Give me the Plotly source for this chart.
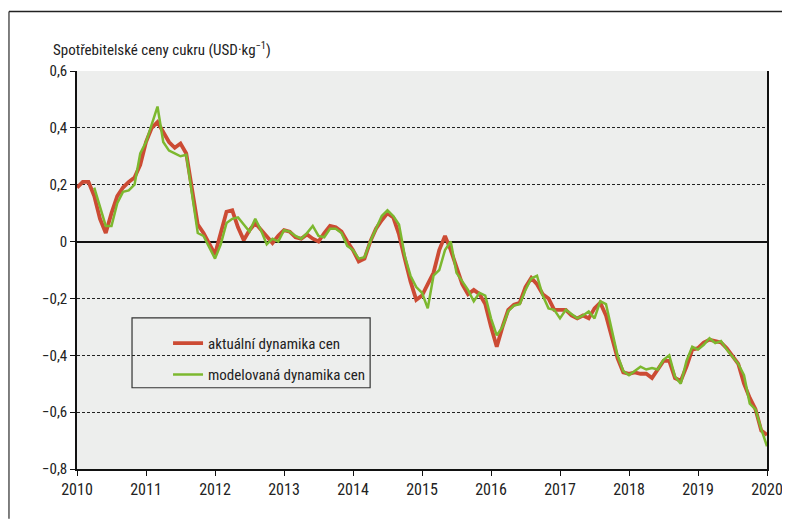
import plotly.graph_objects as go

# ---- data (monthly, Jan 2010 .. Jan 2020) ----
months = list(range(121))
actual = [0.19, 0.21, 0.21, 0.16, 0.08, 0.03, 0.10, 0.16, 0.19, 0.21, 0.225, 0.27,
          0.35, 0.40, 0.42, 0.385, 0.35, 0.33, 0.345, 0.31, 0.18, 0.06, 0.03, -0.01,
          -0.045, 0.03, 0.105, 0.11, 0.05, 0.005, 0.04, 0.065, 0.04, 0.015, -0.005, 0.02,
          0.04, 0.035, 0.015, 0.01, 0.025, 0.01, 0.0, 0.03, 0.055, 0.05, 0.035, 0.0,
          -0.03, -0.07, -0.06, 0.0, 0.045, 0.075, 0.10, 0.085, 0.025, -0.06, -0.14, -0.205,
          -0.19, -0.15, -0.11, -0.03, 0.02, -0.03, -0.09, -0.15, -0.185, -0.17, -0.185, -0.22,
          -0.30, -0.37, -0.30, -0.24, -0.222, -0.215, -0.16, -0.128, -0.15, -0.185, -0.2, -0.24,
          -0.24, -0.24, -0.26, -0.27, -0.26, -0.27, -0.235, -0.215, -0.26, -0.33, -0.41, -0.46,
          -0.465, -0.46, -0.465, -0.465, -0.48, -0.45, -0.42, -0.42, -0.48, -0.49, -0.44, -0.38,
          -0.375, -0.355, -0.345, -0.35, -0.355, -0.375, -0.40, -0.43, -0.50, -0.55, -0.59, -0.665,
          -0.68]
model = [None, None, None, 0.19, 0.12, 0.055, 0.055, 0.135, 0.175, 0.18, 0.20, 0.31,
         0.35, 0.415, 0.475, 0.35, 0.32, 0.31, 0.30, 0.305, 0.16, 0.03, 0.02, -0.02,
         -0.06, -0.01, 0.065, 0.08, 0.085, 0.06, 0.035, 0.08, 0.04, -0.01, 0.01, 0.0,
         0.04, 0.035, 0.02, 0.01, 0.03, 0.055, 0.02, 0.015, 0.045, 0.045, 0.03, -0.015,
         -0.03, -0.06, -0.055, 0.0, 0.045, 0.09, 0.11, 0.09, 0.06, -0.05, -0.12, -0.16,
         -0.18, -0.235, -0.12, -0.10, -0.03, 0.0, -0.11, -0.14, -0.17, -0.21, -0.18, -0.19,
         -0.27, -0.33, -0.30, -0.245, -0.225, -0.22, -0.17, -0.13, -0.12, -0.19, -0.235, -0.24,
         -0.27, -0.24, -0.255, -0.27, -0.26, -0.246, -0.27, -0.21, -0.22, -0.31, -0.40, -0.455,
         -0.47, -0.455, -0.44, -0.45, -0.445, -0.45, -0.416, -0.40, -0.475, -0.50, -0.42, -0.37,
         -0.38, -0.363, -0.34, -0.357, -0.35, -0.38, -0.405, -0.43, -0.47, -0.57, -0.59, -0.66,
         -0.72]
x_years = [2010 + m / 12 for m in months]

year_ticks = list(range(2010, 2021))
y_ticks = [0.6, 0.4, 0.2, 0.0, -0.2, -0.4, -0.6, -0.8]
y_ticktext = ["0,6", "0,4", "0,2", "0", "\u22120,2", "\u22120,4", "\u22120,6", "\u22120,8"]

series_names = ["aktuální dynamika cen", "modelovaná dynamika cen"]
y_title = "Spotřebitelské ceny cukru (USD·kg<sup>\u22121</sup>)"

FONT = "Liberation Sans Narrow, Arial Narrow, Roboto Condensed, Liberation Sans, sans-serif"

fig = go.Figure()
fig.add_trace(go.Scatter(x=x_years, y=actual, mode="lines", name=series_names[0],
                         line=dict(color="#cc4b34", width=3.8), legendgroup="a"))
fig.add_trace(go.Scatter(x=x_years, y=model, mode="lines", name=series_names[1],
                         line=dict(color="#7cb82f", width=2.5), legendgroup="b",
                         connectgaps=False))

# page body has an 8px default margin: figure starts at screen (8, 8)
OFF = 8
W, H = 782, 511
L, T = 69, 63
R = W - (766.7 - OFF)
B = H - (469.3 - OFF)
pw, ph = W - L - R, H - T - B


def px2x(px):
    return (px - OFF - L) / pw


def py2y(py):
    return (H - B - (py - OFF)) / ph


fig.update_layout(
    width=W, height=H,
    margin=dict(l=L, r=R, t=T, b=B, autoexpand=False),
    paper_bgcolor="white",
    plot_bgcolor="#edeeed",
    font=dict(family=FONT, size=15, color="#222222"),
    showlegend=True,
    legend=dict(x=px2x(168), y=py2y(327), xanchor="left", yanchor="top",
                bgcolor="rgba(0,0,0,0)", borderwidth=0,
                font=dict(family=FONT, size=15, color="#222222"),
                tracegroupgap=9, itemwidth=30),
    xaxis=dict(range=[2010, 2020], tickmode="array", tickvals=year_ticks,
               ticktext=[str(y) for y in year_ticks],
               showgrid=False, zeroline=False,
               showline=True, linecolor="#111111", linewidth=1.5,
               ticks="outside", ticklen=5, tickcolor="#111111", tickwidth=1.2,
               tickfont=dict(family=FONT, size=16, color="#222222")),
    yaxis=dict(range=[-0.8, 0.6], tickmode="array", tickvals=y_ticks, ticktext=y_ticktext,
               showgrid=True, gridcolor="#222222", gridwidth=1, griddash="3px,2px",
               zeroline=True, zerolinecolor="#111111", zerolinewidth=1.5,
               showline=True, linecolor="#111111", linewidth=1.5, mirror=True,
               ticks="outside", ticklen=5, tickcolor="#111111", tickwidth=1.2,
               tickfont=dict(family=FONT, size=15, color="#222222")),
    shapes=[
        # legend box
        dict(type="rect", xref="paper", yref="paper",
             x0=px2x(132), x1=px2x(370), y0=py2y(388), y1=py2y(318),
             line=dict(color="#333333", width=1.2), fillcolor="#edeeed", layer="below"),
        # outer frame (left and top)
        dict(type="line", xref="paper", yref="paper",
             x0=px2x(9), x1=px2x(9), y0=py2y(11.5), y1=py2y(519),
             line=dict(color="#555555", width=1.5)),
        dict(type="line", xref="paper", yref="paper",
             x0=px2x(9), x1=px2x(790), y0=py2y(11.5), y1=py2y(11.5),
             line=dict(color="#222222", width=1.5)),
    ],
    annotations=[
        dict(text=y_title, xref="paper", yref="paper", x=px2x(51), y=py2y(49),
             xanchor="left", yanchor="middle", showarrow=False,
             font=dict(family=FONT, size=15, color="#222222")),
    ],
)

fig.write_html("out.html", config={"displayModeBar": False})
